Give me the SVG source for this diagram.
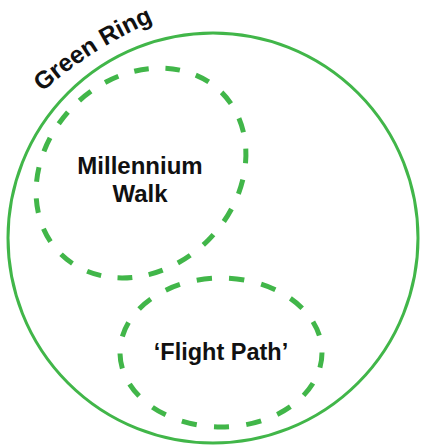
<svg xmlns="http://www.w3.org/2000/svg" width="421" height="446" viewBox="0 0 421 446">
  <style>
    .ring { fill: none; stroke: #41b649; stroke-width: 3; }
    .path { fill: none; stroke: #41b649; stroke-width: 5; stroke-dasharray: 15 17; }
    .label { font-family: "Liberation Sans", Arial, sans-serif; font-weight: bold; fill: #111; }
  </style>
  <defs>
    <path id="ringArc" d="M 40 94 A 420 420 0 0 1 186 9"/>
  </defs>
  <rect width="421" height="446" fill="#fff"/>
  <g id="green-ring">
    <circle class="ring" cx="213" cy="238" r="205"/>
    <text class="label" font-size="24.5"><textPath href="#ringArc" startOffset="3">Green Ring</textPath></text>
  </g>
  <g id="millennium-walk">
    <ellipse class="path" cx="141" cy="173" rx="114" ry="95" transform="rotate(-45 141 173)" pathLength="672"/>
    <text class="label" font-size="24" text-anchor="middle"><tspan x="140" y="174">Millennium</tspan><tspan x="140" y="202">Walk</tspan></text>
  </g>
  <g id="flight-path">
    <ellipse class="path" cx="221" cy="352.5" rx="101" ry="74.5" pathLength="544"/>
    <text class="label" font-size="23.5" text-anchor="middle" x="221" y="360">‘Flight Path’</text>
  </g>
  <g id="connectors"/>
</svg>
